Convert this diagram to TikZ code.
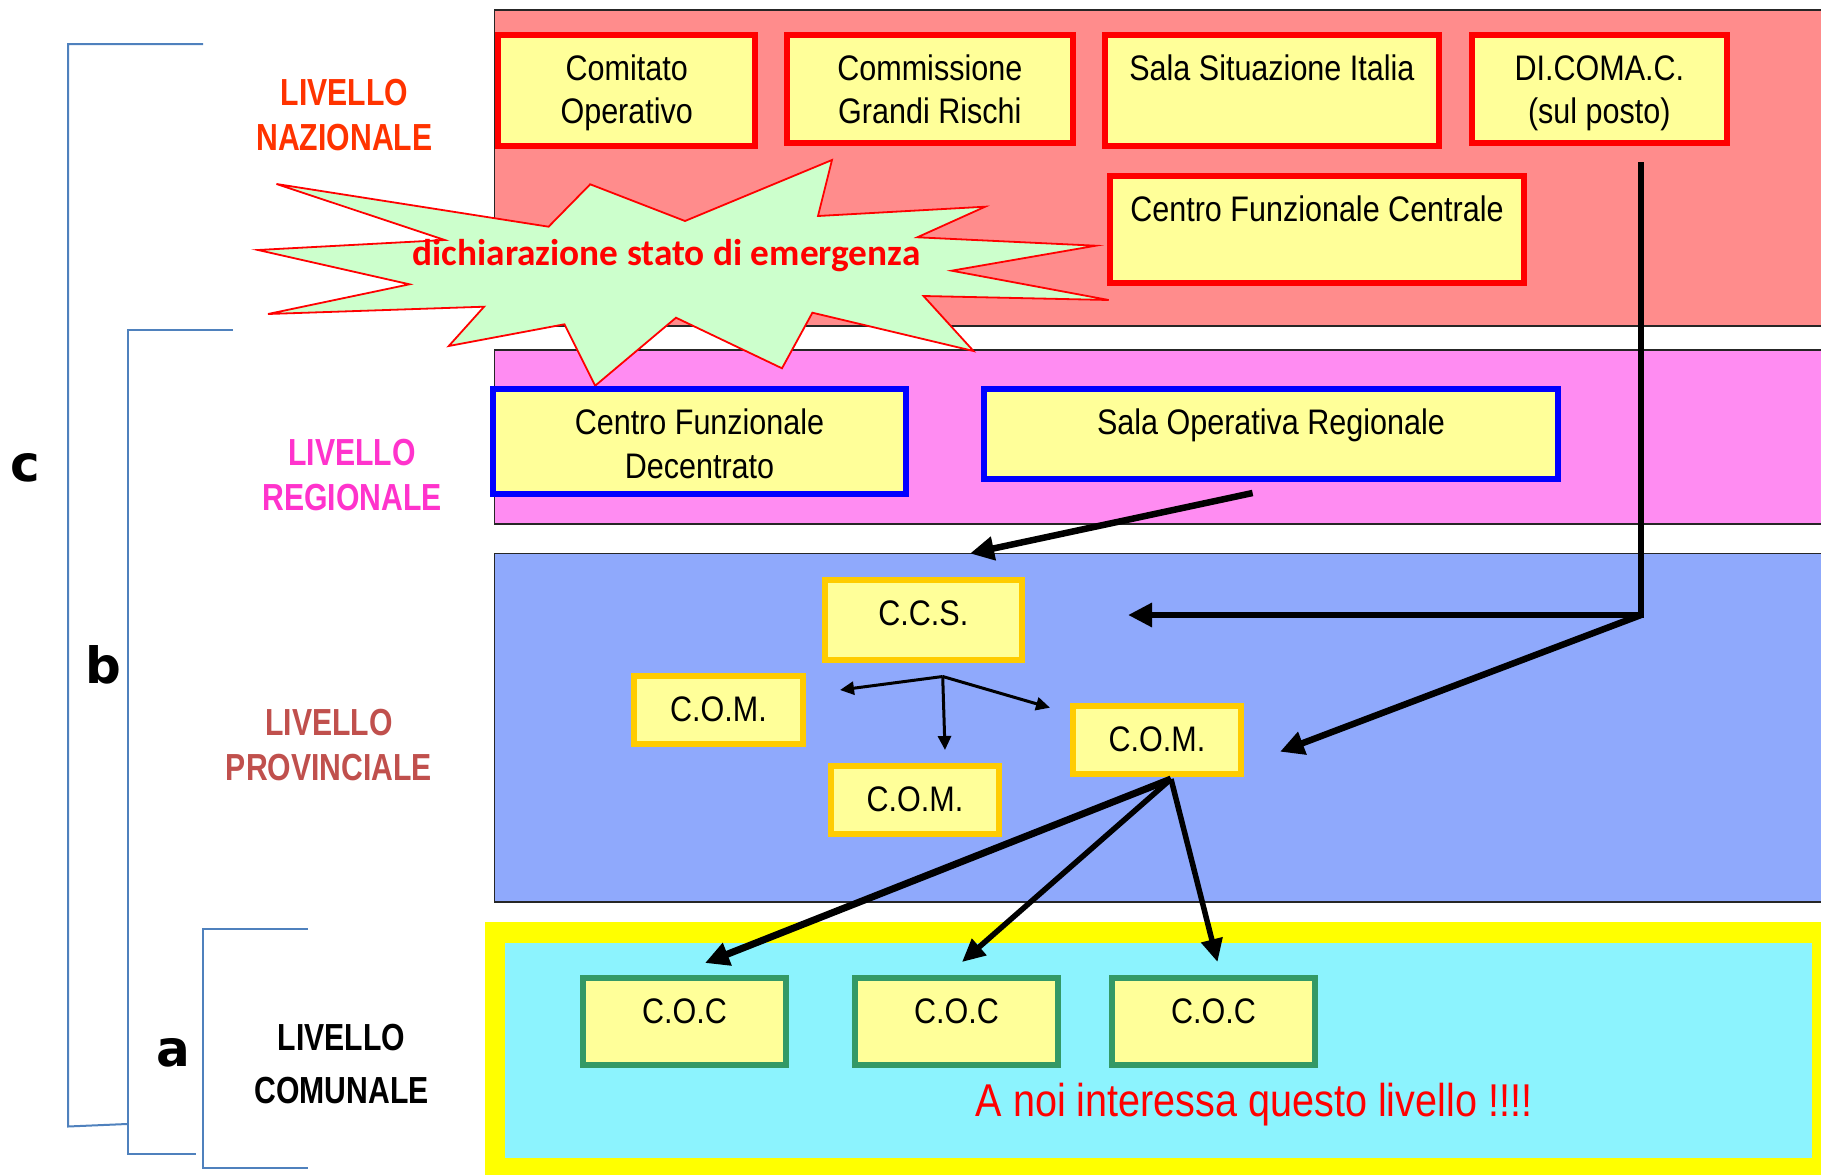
\documentclass[tikz,border=0pt]{standalone}
\usepackage{fontspec}
\setmainfont{Liberation Sans}
\newfontfamily\narrowfont[FakeStretch=0.86]{Liberation Sans}
\newfontfamily\narrowboldfont[FakeStretch=0.80]{Liberation Sans}
\newfontfamily\starfont{Carlito}
\newfontfamily\letterfont{DejaVu Sans}
\usetikzlibrary{arrows.meta}
\definecolor{natfill}{HTML}{FF8C8C}
\definecolor{regfill}{HTML}{FF8CF2}
\definecolor{provfill}{HTML}{8FA9FC}
\definecolor{comfill}{HTML}{8CF3FE}
\definecolor{comframe}{HTML}{FFFF00}
\definecolor{boxfill}{HTML}{FFFF99}
\definecolor{starfill}{HTML}{CCFFCC}
\definecolor{comborder}{HTML}{FFCC00}
\definecolor{cocborder}{HTML}{339966}
\definecolor{bracketblue}{HTML}{4F81BD}
\definecolor{naztext}{HTML}{FF3300}
\definecolor{regtext}{HTML}{FF33CC}
\definecolor{provtext}{HTML}{C0504D}
\begin{document}
\begin{tikzpicture}[x=1pt,y=-1pt,
  region/.style={draw=black!85, line width=1.8pt},
  nbox/.style={draw=#1, line width=6pt, fill=boxfill, inner sep=0pt, outer sep=0pt},
  btext/.style={anchor=base, inner sep=0pt, font=\narrowfont\fontsize{35.5}{43}\selectfont},
  lvltext/.style={anchor=base, inner sep=0pt, text=#1, font=\narrowboldfont\bfseries\fontsize{37.7}{45}\selectfont},
  letter/.style={inner sep=0pt, font=\letterfont\bfseries\fontsize{50}{60}\selectfont},
  bracket/.style={draw=bracketblue, line width=2pt},
  bigarrow/.style={line width=#1, -{Triangle[length=24pt,width=23pt]}},
  midarrow/.style={line width=#1, -{Triangle[length=23pt,width=21pt]}},
  smallarrow/.style={line width=3pt, -{Triangle[length=14pt,width=13pt]}}
]
\useasboundingbox (0,0) rectangle (1821,1175);

% level bands
\fill[natfill] (494.5,10) rectangle (1830,326);
\draw[region] (1830,10) -- (494.5,10) -- (494.5,326) -- (1830,326);
\fill[regfill] (494.5,350) rectangle (1830,524);
\draw[region] (1830,350) -- (494.5,350) -- (494.5,524) -- (1830,524);
\fill[provfill] (494.5,553.5) rectangle (1830,902);
\draw[region] (1830,553.5) -- (494.5,553.5) -- (494.5,902) -- (1830,902);
\fill[comframe] (484.6,921.7) rectangle (1830,1180);
\fill[comfill] (504.5,943) rectangle (1812,1158);

% brackets
\draw[bracket] (203,44) -- (68,44) -- (68,1126.5) -- (127,1124);
\draw[bracket] (233,330) -- (128,330) -- (128,1154) -- (196,1154);
\draw[bracket] (308,929) -- (203,929) -- (203,1168) -- (308,1168);
\node[letter] (lc) at (25,468) {c};
\node[letter] (lb) at (103,665) {b};
\node[letter] (la) at (173,1053) {a};

% level labels
\node[lvltext=naztext] (naz1) at (344.4,105.2) {LIVELLO};
\node[lvltext=naztext] (naz2) at (344.4,150.2) {NAZIONALE};
\node[lvltext=regtext] (reg1) at (352,465.2) {LIVELLO};
\node[lvltext=regtext] (reg2) at (352,510.2) {REGIONALE};
\node[lvltext=provtext] (prov1) at (329,735.2) {LIVELLO};
\node[lvltext=provtext] (prov2) at (329,780.2) {PROVINCIALE};
\node[lvltext=black] (com1) at (341.5,1050.2) {LIVELLO};
\node[lvltext=black] (com2) at (341.5,1103.8) {COMUNALE};

% starburst
\draw[draw=red, line width=1.8pt, fill=starfill, line join=miter]
  (276.5,184) -- (548.6,226.7) -- (590.2,184.3) -- (685,221) -- (832,160) -- (818,216)
  -- (985.2,206.7) -- (917.3,237.3) -- (1095.8,245.7) -- (951.6,270.7) -- (1108.7,300)
  -- (923.5,296) -- (973.5,351) -- (812.4,312.7) -- (782,368.3) -- (676,317.7)
  -- (595.2,385.7) -- (564.4,324.3) -- (448.8,346) -- (484.1,306.7) -- (268,314)
  -- (409.5,284.3) -- (258,250) -- (444.8,240) -- cycle;
\node[anchor=base, inner sep=0pt, text=red, font=\starfont\bfseries\fontsize{37.3}{44}\selectfont] (emerg) at (666.5,265) {dichiarazione stato di emergenza};

% national boxes
\node[nbox=red, minimum width=256.6pt, minimum height=111.3pt] (comitato) at (626.7,90.4) {};
\node[btext] (comitato1) at (626.7,80) {Comitato};
\node[btext] (comitato2) at (626.7,123.3) {Operativo};
\node[nbox=red, minimum width=286.4pt, minimum height=107.7pt] (commissione) at (929.8,88.9) {};
\node[btext] (commissione1) at (929.8,80) {Commissione};
\node[btext] (commissione2) at (929.8,123.3) {Grandi Rischi};
\node[nbox=red, minimum width=334.3pt, minimum height=111.3pt] (sala) at (1271.9,90.7) {};
\node[btext] (sala1) at (1271.9,80) {Sala Situazione Italia};
\node[nbox=red, minimum width=255.4pt, minimum height=107.7pt] (dicomac) at (1599.3,88.8) {};
\node[btext] (dicomac1) at (1599.3,80) {DI.COMA.C.};
\node[btext] (dicomac2) at (1599.3,123.3) {(sul posto)};
\node[nbox=red, minimum width=414pt, minimum height=106.4pt] (cfc) at (1317,229.5) {};
\node[btext] (cfc1) at (1317,221.5) {Centro Funzionale Centrale};

% regional boxes
\node[nbox=blue, minimum width=413pt, minimum height=105pt] (cfd) at (699.5,441.2) {};
\node[btext] (cfd1) at (699.5,434) {Centro Funzionale};
\node[btext] (cfd2) at (699.5,478.3) {Decentrato};
\node[nbox=blue, minimum width=574pt, minimum height=90pt] (sor) at (1271,433.7) {};
\node[btext] (sor1) at (1271,434) {Sala Operativa Regionale};

% provincial boxes
\node[nbox=comborder, minimum width=196.5pt, minimum height=80.3pt] (ccs) at (923.3,620.2) {};
\node[btext] (ccs1) at (923.3,625.5) {C.C.S.};
\node[nbox=comborder, minimum width=169pt, minimum height=68pt] (comL) at (718.5,709.7) {};
\node[btext] (comL1) at (718.5,721) {C.O.M.};
\node[nbox=comborder, minimum width=168pt, minimum height=68pt] (comB) at (915,800.3) {};
\node[btext] (comB1) at (915,811.5) {C.O.M.};
\node[nbox=comborder, minimum width=168pt, minimum height=68pt] (comR) at (1157,739.7) {};
\node[btext] (comR1) at (1157,751) {C.O.M.};

% communal boxes
\node[nbox=cocborder, minimum width=203pt, minimum height=87.3pt] (coc1) at (684.5,1021.7) {};
\node[btext] (coc1t) at (684.5,1023) {C.O.C};
\node[nbox=cocborder, minimum width=203.3pt, minimum height=87.3pt] (coc2) at (956.4,1021.7) {};
\node[btext] (coc2t) at (956.4,1023) {C.O.C};
\node[nbox=cocborder, minimum width=203pt, minimum height=87.3pt] (coc3) at (1213.5,1021.7) {};
\node[btext] (coc3t) at (1213.5,1023) {C.O.C};
\node[anchor=base, inner sep=0pt, text=red, font=\narrowfont\fontsize{46}{55}\selectfont] (noi) at (1254,1116.7) {A noi interessa questo livello !!!!};

% connector ends
\coordinate (sorFoot) at (1252.6,493);
\coordinate (ccsIn) at (970,553.5);
\coordinate (dicoFoot) at (1641,162);
\coordinate (dicoCorner) at (1641,615);
\coordinate (ccsSide) at (1128,615);
\coordinate (comRSide) at (1280,751.7);
\coordinate (ccsSplit) at (942.7,676.5);
\coordinate (comLTip) at (840,690);
\coordinate (comBTip) at (945,750);
\coordinate (comRTip) at (1050,707.7);
\coordinate (comFoot) at (1171,779);
\coordinate (coc1Tip) at (705,963);
\coordinate (coc2Tip) at (962,962);
\coordinate (coc3Tip) at (1217.5,962);

% connectors
\draw[bigarrow=6.5pt] (sorFoot) -- (ccsIn);
\draw[bigarrow=6pt, line join=miter] (dicoFoot) -- (dicoCorner) -- (ccsSide);
\draw[bigarrow=6.5pt] (dicoCorner) -- (comRSide);
\draw[smallarrow] (ccsSplit) -- (comLTip);
\draw[smallarrow] (ccsSplit) -- (comBTip);
\draw[smallarrow] (ccsSplit) -- (comRTip);
\draw[bigarrow=7pt] (comFoot) -- (coc1Tip);
\draw[midarrow=5.5pt] (comFoot) -- (coc2Tip);
\draw[midarrow=5.5pt] (comFoot) -- (coc3Tip);
\end{tikzpicture}
\end{document}
